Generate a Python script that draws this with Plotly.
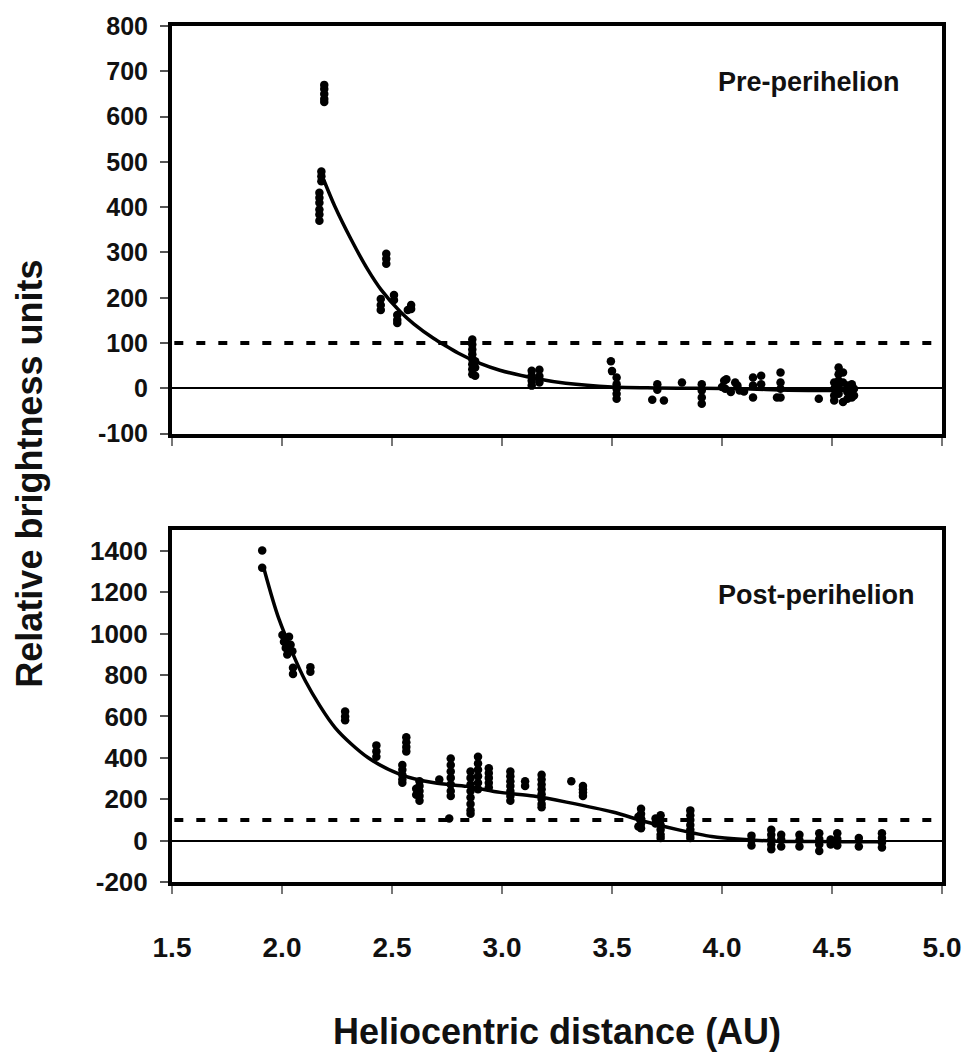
import plotly.graph_objects as go

# ---- Pre-perihelion photometry: heliocentric distance (AU) vs relative brightness
pre_r = ([2.192] * 5 + [2.179] * 3 + [2.170] * 6 +
         [2.474] * 3 + [2.449] * 3 + [2.509] * 2 + [2.524] * 3 + [2.587] * 2 + [2.572] +
         [2.865] * 8 + [2.878] * 3 +
         [3.135] * 4 + [3.170] * 3 +
         [3.495, 3.500] + [3.521] * 5 +
         [3.706] * 2 + [3.683, 3.736, 3.818] + [3.908] * 4 +
         [4.010, 4.020, 4.060, 4.015, 4.040, 4.080, 4.000, 4.070, 4.100] +
         [4.141] * 3 + [4.178] * 2 + [4.266] * 4 + [4.250, 4.440] +
         [4.510] * 4 + [4.530] * 5 + [4.550] * 3 + [4.570] * 3 + [4.590] * 3 + [4.600] * 2)
pre_b = ([670, 661, 650, 639, 632] + [479, 468, 457] + [432, 421, 410, 395, 384, 370] +
         [297, 286, 275] + [197, 184, 173] + [206, 195] + [162, 151, 144] + [184, 175] + [173] +
         [108, 97, 86, 75, 64, 53, 42, 31] + [60, 46, 28] +
         [39, 28, 17, 6] + [41, 27, 13] +
         [60, 38] + [24, 9, -1, -12, -23] +
         [9, -3] + [-25, -27, 13] + [9, -5, -20, -34] +
         [17, 20, 13, -1, -8, -5, 3, 6, -7] +
         [24, 6, -20] + [28, 9] + [35, 13, -1, -20] + [-20, -23] +
         [13, -1, -16, -27] + [46, 31, 17, 2, -12] + [35, 13, -30] + [6, -8, -23] +
         [9, -5, -20] + [-1, -16])

# trend line through the pre-perihelion data
pre_fit_r = [2.19, 2.24, 2.315, 2.39, 2.45, 2.54, 2.60, 2.69, 2.74, 2.80, 2.90, 2.99,
             3.16, 3.29, 3.50, 3.70, 3.90, 4.10, 4.30, 4.50, 4.60]
pre_fit_b = [460, 402, 328, 262, 218, 168, 142, 110, 95, 78, 55, 40,
             21, 11, 3, 1, 0, -1, -4, -5, -5]

# ---- Post-perihelion photometry
post_r = ([1.910] * 2 +
          [2.002, 2.009, 2.017, 2.024, 2.032, 2.039, 2.047] + [2.050] * 2 + [2.129] * 2 +
          [2.287] * 3 + [2.429] * 3 +
          [2.565] * 4 + [2.547] * 5 + [2.625] * 5 + [2.610] * 2 + [2.715] +
          [2.767] * 7 + [2.760] + [2.857] * 8 + [2.891] * 6 + [2.940] * 5 +
          [3.038] * 7 + [3.105] * 2 + [3.180] * 8 + [3.315] + [3.368] * 4 +
          [3.632] * 5 + [3.620] * 2 + [3.721] * 6 + [3.698] * 2 + [3.856] * 7 +
          [4.134] * 3 + [4.224] * 5 + [4.269] * 3 + [4.352] * 3 + [4.442] * 4 +
          [4.524] * 3 + [4.494] * 2 + [4.622] * 2 + [4.727] * 4)
post_b = ([1402, 1318] +
          [993, 961, 930, 899, 985, 946, 915] + [835, 805] + [838, 816] +
          [624, 600, 581] + [460, 431, 405] +
          [499, 475, 452, 431] + [365, 342, 318, 295, 279] + [287, 264, 240, 216, 193] +
          [251, 221] + [295] +
          [397, 365, 334, 303, 271, 240, 216] + [107] +
          [334, 303, 271, 240, 208, 177, 146, 130] + [405, 373, 342, 311, 279, 248] +
          [350, 326, 303, 279, 256] +
          [334, 311, 287, 264, 240, 216, 193] + [287, 264] +
          [318, 295, 271, 248, 224, 201, 177, 161] + [287] + [264, 248, 232, 216] +
          [154, 130, 107, 83, 60] + [115, 68] + [122, 99, 75, 52, 28, 13] + [107, 83] +
          [146, 122, 99, 75, 52, 28, 13] +
          [24, 2, -24] + [52, 28, 5, -19, -42] + [28, 5, -28] + [28, 2, -28] +
          [36, 8, -19, -50] + [36, 8, -24] + [5, -19] + [13, -28] + [36, 13, -9, -33])

post_fit_r = [1.919, 1.986, 2.107, 2.242, 2.392, 2.542, 2.692, 2.842, 2.992, 3.143,
              3.293, 3.503, 3.653, 3.803, 3.953, 4.104, 4.25, 4.50, 4.73]
post_fit_b = [1310, 1071, 770, 545, 400, 318, 279, 262, 233, 215,
              186, 138, 91, 52, 20, 5, -3, -5, -6]

# threshold level drawn as a dashed line in both panels
threshold = 100

# axis ticks (labels written with a plain hyphen for negatives)
dist_ticks = [1.5, 2.0, 2.5, 3.0, 3.5, 4.0, 4.5, 5.0]
dist_labels = ["1.5", "2.0", "2.5", "3.0", "3.5", "4.0", "4.5", "5.0"]
pre_ticks = [-100, 0, 100, 200, 300, 400, 500, 600, 700, 800]
pre_labels = ["-100", "0", "100", "200", "300", "400", "500", "600", "700", "800"]
post_ticks = [-200, 0, 200, 400, 600, 800, 1000, 1200, 1400]
post_labels = ["-200", "0", "200", "400", "600", "800", "1000", "1200", "1400"]

ARIAL = "Liberation Sans, Arial, sans-serif"
INK = "#111111"

fig = go.Figure()

dot = dict(color="black", size=8.5, symbol="circle")
fit_line = dict(color="black", width=3.5, shape="spline", smoothing=0.8)

fig.add_trace(go.Scatter(x=pre_r, y=pre_b, mode="markers", marker=dot,
                         xaxis="x", yaxis="y", hoverinfo="x+y"))
fig.add_trace(go.Scatter(x=pre_fit_r, y=pre_fit_b, mode="lines", line=fit_line,
                         xaxis="x", yaxis="y", hoverinfo="skip"))
fig.add_trace(go.Scatter(x=post_r, y=post_b, mode="markers", marker=dot,
                         xaxis="x2", yaxis="y2", hoverinfo="x+y"))
fig.add_trace(go.Scatter(x=post_fit_r, y=post_fit_b, mode="lines", line=fit_line,
                         xaxis="x2", yaxis="y2", hoverinfo="skip"))

common_x = dict(range=[1.5, 5.0], tickvals=dist_ticks, ticktext=dist_labels,
                ticks="outside", ticklen=8, tickwidth=1.5, tickcolor="#777777",
                showline=True, linewidth=4, linecolor="black", mirror=True,
                showgrid=False, zeroline=False, domain=[0, 1])
common_y = dict(ticks="outside", ticklen=8, tickwidth=1.5, tickcolor="#555555",
                showline=True, linewidth=4, linecolor="black", mirror=True,
                showgrid=False, zeroline=True, zerolinecolor="black", zerolinewidth=2)

fig.update_layout(
    width=973, height=1055,
    margin=dict(l=172, r=24, t=21, b=173),
    paper_bgcolor="white", plot_bgcolor="white",
    showlegend=False,
    xaxis=dict(common_x, anchor="y", showticklabels=False),
    yaxis=dict(common_y, domain=[0.5238, 1.0], range=[-100, 800],
               tickvals=pre_ticks, ticktext=pre_labels, ticklabelstandoff=7,
               tickfont=dict(family=ARIAL, size=25, color=INK, weight="bold")),
    xaxis2=dict(common_x, anchor="y2", showticklabels=True, ticklabelstandoff=29,
                tickfont=dict(family=ARIAL, size=28, color=INK, weight="bold")),
    yaxis2=dict(common_y, domain=[0.0, 0.4111], range=[-200, 1500],
                tickvals=post_ticks, ticktext=post_labels, ticklabelstandoff=7,
                tickfont=dict(family=ARIAL, size=26, color=INK, weight="bold")),
)

# dashed threshold lines
for yref in ("y", "y2"):
    fig.add_shape(type="line", xref=yref.replace("y", "x") + " domain", yref=yref,
                  x0=0.003, x1=1.0, y0=threshold, y1=threshold,
                  line=dict(color="black", width=4, dash="9px,13px"))

# panel labels
fig.add_annotation(text="Pre-perihelion", xref="x domain", yref="y domain",
                   x=0.827, y=0.862, xanchor="center", yanchor="middle", showarrow=False,
                   font=dict(family=ARIAL, size=27, color=INK, weight="bold"))
fig.add_annotation(text="Post-perihelion", xref="x2 domain", yref="y2 domain",
                   x=0.837, y=0.8164, xanchor="center", yanchor="middle", showarrow=False,
                   font=dict(family=ARIAL, size=27, color=INK, weight="bold"))

# shared axis titles
fig.add_annotation(text="Relative brightness units", xref="paper", yref="paper",
                   x=-0.1853, y=0.4774, xanchor="center", yanchor="middle",
                   textangle=-90, showarrow=False,
                   font=dict(family=ARIAL, size=36, color=INK, weight="bold"))
fig.add_annotation(text="Heliocentric distance (AU)", xref="paper", yref="paper",
                   x=0.5006, y=-0.1742, xanchor="center", yanchor="middle",
                   showarrow=False,
                   font=dict(family=ARIAL, size=36, color=INK, weight="bold"))

fig.write_html("out.html")
